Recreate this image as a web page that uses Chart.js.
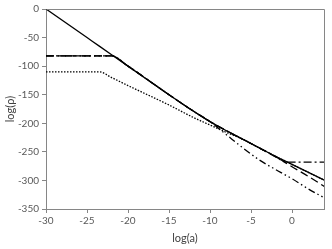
<!DOCTYPE html>
<html lang="en">
<head>
  <meta charset="UTF-8">
  <title>log(rho) vs log(a)</title>
  <script src="https://cdn.jsdelivr.net/npm/chart.js"></script>
  <style>
    body { margin: 0; background: #fff; }
    canvas { display: block; }
  </style>
</head>
<body>
<canvas id="chart" width="332" height="249"></canvas>
<script>
// x values shared by every series
const logA = [-30, -25, -23.5, -22, -20, -15, -12, -10, -8, -6, -4, -2, -1, 0, 2, 4];

const solid      = [0, -50, -65, -80, -100, -150, -179, -197, -213, -228, -243, -258, -265, -272, -286, -300];
const dashed     = [-82, -82, -82, -82, -100, -150, -179, -197, -213, -228, -243, -259, -267, -276, -293, -311];
const dashDot    = [-82, -82, -82, -82, -100, -150, -179, -197, -213, -228, -243, -258, -267, -268, -268, -268];
const dashDotDot = [-82, -82, -82, -82, -100, -150, -179, -197, -220, -243, -264, -281, -289, -297, -315, -331];
const dotted     = [-110, -110, -110, -120, -134, -168, -190, -203, -216, -228, -243, -258, -265, -272, -286, -300];

const xTicks = [-30, -25, -20, -15, -10, -5, 0];
const yTicks = [0, -50, -100, -150, -200, -250, -300, -350];

function pts(ys) {
  return logA.map((x, i) => ({ x: x, y: ys[i] }));
}

function serie(ys, dash, width) {
  return {
    data: pts(ys),
    borderColor: '#000',
    borderWidth: width,
    borderDash: dash,
    pointRadius: 0,
    fill: false,
    cubicInterpolationMode: 'monotone'
  };
}

// top and right frame of the plot area
const frame = {
  id: 'frame',
  afterDraw(chart) {
    const a = chart.chartArea;
    const ctx = chart.ctx;
    ctx.save();
    ctx.strokeStyle = '#868686';
    ctx.lineWidth = 1;
    ctx.beginPath();
    ctx.moveTo(Math.round(a.left) + 0.5, Math.round(a.top) + 0.5);
    ctx.lineTo(Math.round(a.right) + 0.5, Math.round(a.top) + 0.5);
    ctx.lineTo(Math.round(a.right) + 0.5, Math.round(a.bottom) + 0.5);
    ctx.stroke();
    ctx.restore();
  }
};

const tickFont = { family: 'Lato, "Open Sans", sans-serif', size: 10 };

new Chart(document.getElementById('chart').getContext('2d'), {
  type: 'line',
  data: {
    datasets: [
      serie(dotted, [1.5, 1.5], 1.3),
      serie(dashDotDot, [7, 3, 1.5, 3, 1.5, 3], 1.3),
      serie(dashDot, [8, 3, 2, 3], 1.3),
      serie(dashed, [8, 4], 1.3),
      serie(solid, [], 1.3)
    ]
  },
  plugins: [frame],
  options: {
    responsive: false,
    animation: false,
    layout: { padding: { top: 6, right: 8, left: 0, bottom: 0 } },
    plugins: {
      legend: { display: false },
      tooltip: { enabled: false }
    },
    scales: {
      x: {
        type: 'linear',
        min: -30,
        max: 3.9,
        afterBuildTicks: s => { s.ticks = xTicks.map(v => ({ value: v })); },
        afterFit: s => { s.height = 40; },
        ticks: { color: '#595959', font: tickFont, padding: 2, maxRotation: 0 },
        grid: { drawOnChartArea: false, drawTicks: true, tickLength: 4, color: '#868686' },
        border: { color: '#868686' },
        title: { display: true, text: 'log(a)', color: '#404040', font: { family: 'Lato, "Open Sans", sans-serif', size: 11 }, padding: { top: 2 } }
      },
      y: {
        type: 'linear',
        min: -350,
        max: 0,
        afterBuildTicks: s => { s.ticks = yTicks.map(v => ({ value: v })); },
        afterFit: s => { s.width = 46; },
        ticks: { color: '#595959', font: tickFont, padding: 3 },
        grid: { drawOnChartArea: false, drawTicks: true, tickLength: 4, color: '#868686' },
        border: { color: '#868686' },
        title: { display: true, text: 'log(ρ)', color: '#404040', font: { family: 'Lato, "Open Sans", sans-serif', size: 11 }, padding: { bottom: 0 } }
      }
    }
  }
});
</script>
</body>
</html>
